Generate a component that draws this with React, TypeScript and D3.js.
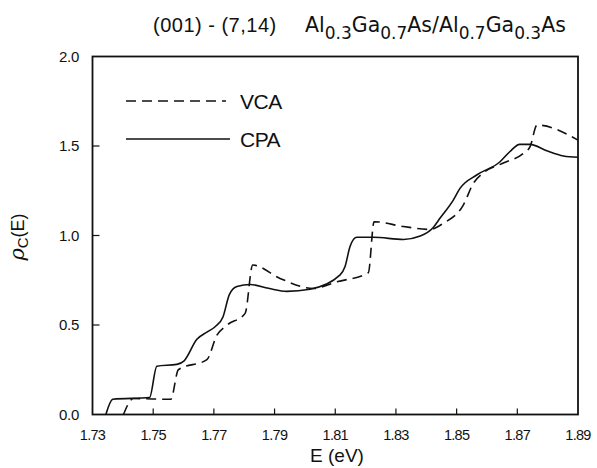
import React from "react";
import * as d3 from "d3";

const xTicks = [1.73, 1.75, 1.77, 1.79, 1.81, 1.83, 1.85, 1.87, 1.89];
const yTicks = [0.0, 0.5, 1.0, 1.5, 2.0];

const cpaE = [1.7344, 1.7367, 1.7488, 1.7512, 1.7578, 1.7602, 1.7644, 1.7677, 1.7704, 1.773, 1.7751, 1.7776, 1.782, 1.788, 1.794, 1.8017, 1.8116, 1.8132, 1.8149, 1.8171, 1.8226, 1.8325, 1.838, 1.8423, 1.8445, 1.8489, 1.8511, 1.8566, 1.8643, 1.8675, 1.8708, 1.8742, 1.8797, 1.8852, 1.89];
const cpaRho = [0, 0.085, 0.095, 0.27, 0.28, 0.3, 0.42, 0.46, 0.49, 0.545, 0.67, 0.715, 0.726, 0.705, 0.688, 0.7, 0.78, 0.825, 0.94, 0.99, 0.99, 0.978, 0.997, 1.045, 1.096, 1.198, 1.263, 1.338, 1.412, 1.468, 1.509, 1.509, 1.473, 1.444, 1.437];

const vcaE = [1.7402, 1.7435, 1.7558, 1.7583, 1.7677, 1.771, 1.7743, 1.7803, 1.7828, 1.7918, 1.8028, 1.8105, 1.8209, 1.8228, 1.8325, 1.8412, 1.8456, 1.8522, 1.8555, 1.8588, 1.8654, 1.872, 1.8742, 1.8765, 1.89];
const vcaRho = [0, 0.089, 0.085, 0.25, 0.307, 0.443, 0.499, 0.565, 0.835, 0.76, 0.704, 0.741, 0.792, 1.077, 1.05, 1.034, 1.068, 1.17, 1.291, 1.35, 1.405, 1.459, 1.496, 1.617, 1.533];

const W = 597, H = 468;
const L = 92.5, R = 578, T = 56.5, B = 414.5;
const FONT = "'Liberation Sans', Arial, sans-serif";
const WIDE = "'DejaVu Sans', Verdana, sans-serif";

export default function App() {
  const x = d3.scaleLinear().domain([1.73, 1.89]).range([L, R]);
  const y = d3.scaleLinear().domain([0, 2]).range([B, T]);
  const line = d3
    .line<[number, number]>()
    .x((d) => x(d[0]))
    .y((d) => y(d[1]))
    .curve(d3.curveMonotoneX);
  const cpa = cpaE.map((e, i) => [e, cpaRho[i]] as [number, number]);
  const vca = vcaE.map((e, i) => [e, vcaRho[i]] as [number, number]);

  return (
    <svg
      width={W}
      height={H}
      style={{ position: "absolute", left: 0, top: 0, background: "#fff" }}
      fontFamily={FONT}
    >
      <rect x={0} y={0} width={W} height={H} fill="#fff" />
      {/* title */}
      <text x={153} y={32} fontSize={20} fill="#111" letterSpacing={0.5}>
        (001) - (7,14)
      </text>
      <text x={305} y={32} fontSize={20.5} fill="#111" fontFamily={WIDE}>
        Al<tspan fontSize={17} dy={7}>0.3</tspan>
        <tspan dy={-7}>Ga</tspan>
        <tspan fontSize={17} dy={7}>0.7</tspan>
        <tspan dy={-7}>As/Al</tspan>
        <tspan fontSize={17} dy={7}>0.7</tspan>
        <tspan dy={-7}>Ga</tspan>
        <tspan fontSize={17} dy={7}>0.3</tspan>
        <tspan dy={-7}>As</tspan>
      </text>

      {/* frame */}
      <rect x={L} y={T} width={R - L} height={B - T} fill="none" stroke="#111" strokeWidth={1.8} />

      {/* x ticks */}
      {xTicks.map((t) => (
        <g key={"x" + t}>
          {t > 1.73 && t < 1.89 && (
            <line x1={x(t)} x2={x(t)} y1={B} y2={B - 6} stroke="#111" strokeWidth={1.2} />
          )}
          <text x={x(t)} y={440} fontSize={14.5} textAnchor="middle" fill="#111" letterSpacing={-0.7}>
            {t.toFixed(2)}
          </text>
        </g>
      ))}

      {/* y ticks */}
      {yTicks.map((t) => (
        <g key={"y" + t}>
          {t > 0 && t < 2 && (
            <line x1={L} x2={L + 7} y1={y(t)} y2={y(t)} stroke="#111" strokeWidth={1.2} />
          )}
          <text x={79} y={y(t) + 5} fontSize={15} textAnchor="end" fill="#111" letterSpacing={-0.3}>
            {t.toFixed(1)}
          </text>
        </g>
      ))}

      {/* axis titles */}
      <text x={337} y={462} fontSize={19} textAnchor="middle" fill="#111">
        E (eV)
      </text>
      <text
        transform="translate(24,237) rotate(-90)"
        fontSize={18}
        textAnchor="middle"
        fill="#111"
      >
        <tspan fontStyle="italic" fontSize={21} fontFamily="'DejaVu Serif', serif">ρ</tspan>
        <tspan fontSize={15} dy={4}>C</tspan>
        <tspan dy={-4}>(E)</tspan>
      </text>

      {/* legend */}
      <line x1={126} x2={226} y1={101} y2={101} stroke="#111" strokeWidth={1.5} strokeDasharray="10,6" />
      <text x={240} y={109} fontSize={21} fill="#111" letterSpacing={-0.5}>VCA</text>
      <line x1={126} x2={230} y1={139} y2={139} stroke="#111" strokeWidth={1.5} />
      <text x={240} y={147} fontSize={21} fill="#111" letterSpacing={-0.5}>CPA</text>

      {/* curves */}
      <path d={line(vca) || ""} fill="none" stroke="#111" strokeWidth={1.6} strokeDasharray="10,6" />
      <path d={line(cpa) || ""} fill="none" stroke="#111" strokeWidth={1.6} />
    </svg>
  );
}
